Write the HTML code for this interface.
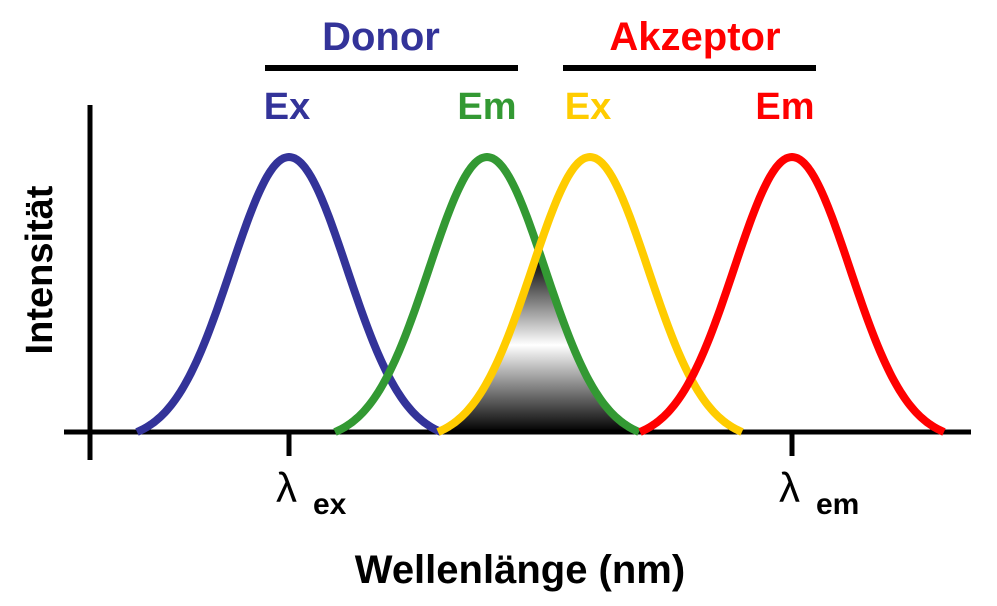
<!DOCTYPE html>
<html><head><meta charset="utf-8"><style>
html,body{margin:0;padding:0;background:#fff;width:997px;height:606px;overflow:hidden}
svg{display:block}
text{font-family:"Liberation Sans",Arial,sans-serif;font-weight:bold}
</style></head><body>
<svg id="s" width="997" height="606" viewBox="0 0 997 606" xmlns="http://www.w3.org/2000/svg">
<defs>
<linearGradient id="g" x1="0" y1="258" x2="0" y2="432" gradientUnits="userSpaceOnUse">
<stop offset="0" stop-color="#000"/>
<stop offset="0.5" stop-color="#fff"/>
<stop offset="1" stop-color="#000"/>
</linearGradient>
</defs>
<path id="shade" fill="url(#g)" d=""/>
<line x1="90" y1="105" x2="90" y2="460" stroke="#000" stroke-width="5"/>
<line x1="64" y1="432" x2="971" y2="432" stroke="#000" stroke-width="5"/>
<line x1="289" y1="432" x2="289" y2="456" stroke="#000" stroke-width="5"/>
<line x1="792" y1="432" x2="792" y2="456" stroke="#000" stroke-width="5"/>
<path id="c0" fill="none" stroke="#333399" stroke-width="8" stroke-linejoin="round"/>
<path id="c1" fill="none" stroke="#339933" stroke-width="8" stroke-linejoin="round"/>
<path id="c2" fill="none" stroke="#ffcc00" stroke-width="8" stroke-linejoin="round"/>
<path id="c3" fill="none" stroke="#ff0000" stroke-width="8" stroke-linejoin="round"/>
<line x1="265" y1="68" x2="518" y2="68" stroke="#000" stroke-width="6"/>
<line x1="563" y1="68" x2="816" y2="68" stroke="#000" stroke-width="6"/>
<text x="381" y="50" font-size="40" fill="#333399" text-anchor="middle">Donor</text>
<text x="695" y="50" font-size="40" fill="#ff0000" text-anchor="middle">Akzeptor</text>
<text x="287" y="119" font-size="38" fill="#333399" text-anchor="middle">Ex</text>
<text x="487" y="119" font-size="38" fill="#339933" text-anchor="middle">Em</text>
<text x="588" y="119" font-size="38" fill="#ffcc00" text-anchor="middle">Ex</text>
<text x="785" y="119" font-size="38" fill="#ff0000" text-anchor="middle">Em</text>
<text x="0" y="0" font-size="38" fill="#000" text-anchor="middle" transform="translate(52,270) rotate(-90)">Intensität</text>
<text x="276" y="502" font-size="42" fill="#000" style="font-weight:normal">λ</text>
<text x="313" y="514" font-size="30" fill="#000">ex</text>
<text x="779" y="502" font-size="42" fill="#000" style="font-weight:normal">λ</text>
<text x="816" y="514" font-size="30" fill="#000">em</text>
<text x="520" y="583" font-size="40" fill="#000" text-anchor="middle">Wellenlänge (nm)</text>
</svg>
<script>
var peaks=[289,487,590,792],base=432,h=275,sig=58,W=152;
var ge=Math.exp(-W*W/(2*sig*sig));
function f(p,x){var g=Math.exp(-(x-p)*(x-p)/(2*sig*sig));return base-h*(g-ge)/(1-ge);}
for(var i=0;i<4;i++){var p=peaks[i],d="";
for(var x=p-W;x<=p+W;x+=2){d+=(d?"L":"M")+x+","+f(p,x).toFixed(1);}
document.getElementById("c"+i).setAttribute("d",d);}
var d="M438,432";
for(var x=438;x<=639;x+=1){d+="L"+x+","+Math.max(f(487,x),f(590,x)).toFixed(1);}
d+="L639,432Z";
document.getElementById("shade").setAttribute("d",d);
</script>
</body></html>
